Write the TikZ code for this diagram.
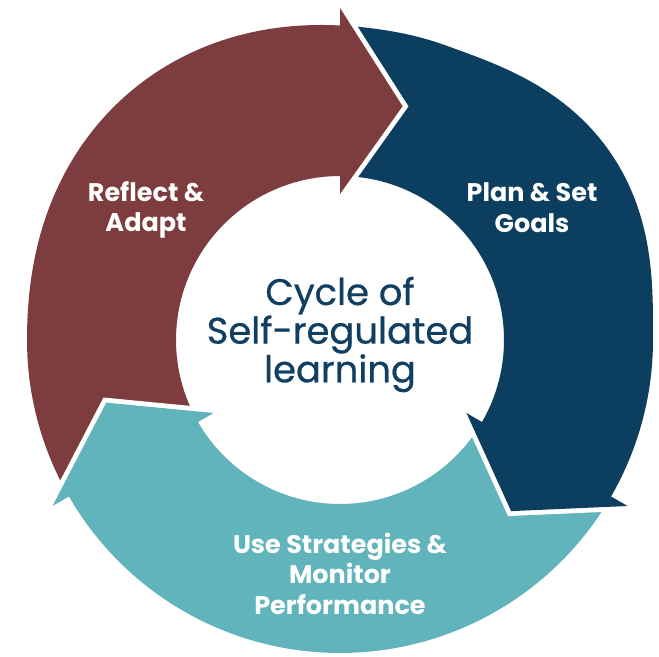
\documentclass[tikz,border=0pt]{standalone}
\usepackage{fontspec}
\setmainfont{Poppins}
\newfontfamily\titlefont{Poppins}[FakeBold=0.6]
\definecolor{maroonc}{RGB}{125,60,61}
\definecolor{navyc}{RGB}{12,62,95}
\definecolor{tealc}{RGB}{98,180,188}
\definecolor{titlec}{RGB}{17,63,98}
\begin{document}
\begin{tikzpicture}[x=0.02cm,y=0.02cm,
  declare function={bump(\u)=max(0,1-(\u)*(\u))*max(0,1-(\u)*(\u));
                    rout(\t)=313+16*bump((\t-35)/35)+12*bump((\t-130)/50);},
  gapline/.style={draw=white,line width=5.5pt,line join=miter,miter limit=20},
  titletext/.style={font=\titlefont\fontsize{21}{22}\selectfont,text=titlec,align=center,inner sep=0pt},
  labeltext/.style={font=\bfseries\fontsize{14.5}{17.3}\selectfont,text=white,align=center,inner sep=0pt}]
\useasboundingbox (-340,-316) rectangle (319,340);
\fill[white] (-340,-316) rectangle (319,340);
% bodies
\fill[maroonc] plot[domain=89.5:209.7,samples=121] (\x:{rout(\x)})
  -- plot[domain=209.7:89.5,samples=121] (\x:164) -- cycle;
\fill[navyc] plot[domain=-30.5:89.7,samples=121] (\x:{rout(\x)})
  -- plot[domain=89.7:-30.5,samples=121] (\x:164) -- cycle;
\fill[tealc] plot[domain=-150.5:-30.3,samples=121] (\x:{rout(\x)})
  -- plot[domain=-30.3:-150.5,samples=121] (\x:164) -- cycle;
% heads
\draw[gapline] (90:332) -- (75:242) -- (90:146);
\fill[maroonc] (90:332) -- (75:242) -- (90:146) -- cycle;
\draw[gapline] (-30:332) -- (-45:242) -- (-30:146);
\fill[navyc] (-30:332) -- (-45:242) -- (-30:146) -- cycle;
\draw[gapline] (210:332) -- (195:242) -- (210:146);
\fill[tealc] (210:332) -- (195:242) -- (210:146) -- cycle;
% texts
\node[titletext] (center) at (0,5.5) {Cycle of\\Self-regulated\\learning};
\node[labeltext] (reflect) at (-194,129.8) {Reflect \&\\Adapt};
\node[labeltext] (plan) at (192,132.5) {Plan \& Set\\Goals};
\node[labeltext] (use) at (0,-233.5) {Use Strategies \&\\Monitor\\Performance};
\end{tikzpicture}
\end{document}
